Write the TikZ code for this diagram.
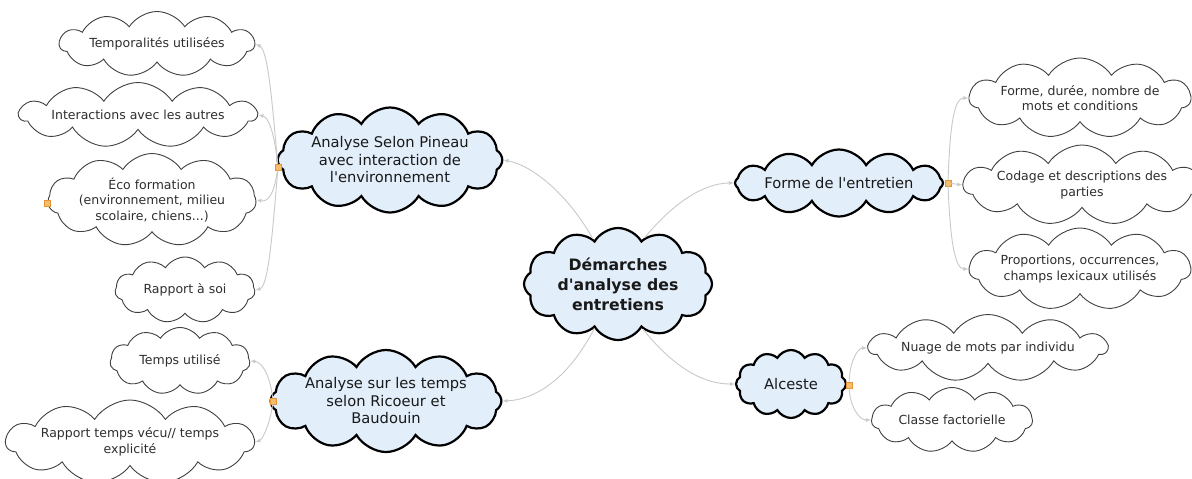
\documentclass[tikz,border=0pt]{standalone}
\usepackage{fontspec}
\setmainfont{DejaVu Sans}
\usetikzlibrary{shapes.symbols,arrows.meta}
\definecolor{mainfill}{HTML}{E3EEFB}
\definecolor{conngray}{HTML}{C9C9C9}
\definecolor{handlefill}{HTML}{F6BC6E}
\definecolor{handledraw}{HTML}{E59433}
\definecolor{leaftext}{HTML}{2E2E2E}
\newcommand{\apos}{\textquotesingle}
\tikzset{
  leafcloud/.style={cloud, cloud puffs=11, cloud puff arc=115, cloud ignores aspect,
    draw=black!75, line width=0.9pt, fill=white, inner sep=0pt, align=center,
    text=leaftext, font=\fontsize{12.5}{15.5}\selectfont},
  maincloud/.style={cloud, cloud puffs=12, cloud puff arc=120, cloud ignores aspect,
    draw=black, line width=2.2pt, fill=mainfill, inner sep=0pt, align=center,
    text=black!90, font=\fontsize{14.7}{17.5}\selectfont},
  conn/.style={draw=conngray, line width=0.9pt, -{Latex[length=5pt,width=4pt]}},
  handle/.style={draw=handledraw, fill=handlefill, line width=0.6pt, minimum size=6pt, inner sep=0pt, rectangle}
}
\begin{document}
\begin{tikzpicture}[x=1pt,y=-1pt]
\useasboundingbox[fill=white] (0,0) rectangle (1192,479);
% main nodes
\node[maincloud, minimum width=188pt, minimum height=112pt, font=\bfseries\fontsize{15.7}{20}\selectfont] (c) at (618,284) {Démarches\\d\apos{}analyse des\\entretiens};
\node[maincloud, minimum width=214pt, minimum height=105pt] (p) at (390,160) {Analyse Selon Pineau\\avec interaction de\\l\apos{}environnement};
\node[maincloud, minimum width=222pt, minimum height=102pt] (r) at (386,401) {Analyse sur les temps\\selon Ricoeur et\\Baudouin};
\node[maincloud, minimum width=208pt, minimum height=67pt] (f) at (839,183) {Forme de l\apos{}entretien};
\node[maincloud, minimum width=110pt, minimum height=68pt] (a) at (791,384) {Alceste};
% leaves left
\node[leafcloud, minimum width=195pt, minimum height=65pt] (p1) at (157,44) {Temporalités utilisées};
\node[leafcloud, minimum width=233pt, minimum height=65pt] (p2) at (138,115) {Interactions avec les autres};
\node[leafcloud, minimum width=205pt, minimum height=93pt] (p3) at (152,200) {Éco formation\\(environnement, milieu\\scolaire, chiens...)};
\node[leafcloud, minimum width=140pt, minimum height=66pt] (p4) at (185,290) {Rapport à soi};
\node[leafcloud, minimum width=140pt, minimum height=67pt] (r1) at (180,361) {Temps utilisé};
\node[leafcloud, minimum width=240pt, minimum height=84pt] (r2) at (130,442) {Rapport temps vécu// temps\\explicité};
% leaves right
\node[leafcloud, minimum width=216pt, minimum height=80pt] (f1) at (1080,98) {Forme, durée, nombre de\\mots et conditions};
\node[leafcloud, minimum width=220pt, minimum height=80pt] (f2) at (1082,185) {Codage et descriptions des\\parties};
\node[leafcloud, minimum width=216pt, minimum height=82pt] (f3) at (1080,269) {Proportions, occurrences,\\champs lexicaux utilisés};
\node[leafcloud, minimum width=232pt, minimum height=67pt] (a1) at (988,348) {Nuage de mots par individu};
\node[leafcloud, minimum width=161pt, minimum height=65pt] (a2) at (952,420) {Classe factorielle};
% handles
\node[handle] (ph) at (278,167) {};
\node[handle] (rh) at (273,401) {};
\node[handle] (fh) at (948,183) {};
\node[handle] (ah) at (849,385) {};
\node[handle] (eh) at (47,203) {};
% connectors from centre
\draw[conn] (c.119) .. controls (565,190) and (530,165) .. (p.east);
\draw[conn] (c.60) .. controls (680,195) and (710,183) .. (f.west);
\draw[conn] (c.-118) .. controls (565,385) and (530,400) .. (r.east);
\draw[conn] (c.-61) .. controls (680,375) and (710,384) .. (a.west);
% Pineau children
\draw[conn] (ph) .. controls (272,100) and (268,50) .. (p1.east);
\draw[conn] (ph) .. controls (274,130) and (268,117) .. (p2.east);
\draw[conn] (ph) .. controls (274,195) and (268,202) .. (p3.east);
\draw[conn] (ph) .. controls (272,240) and (268,287) .. (p4.east);
% Ricoeur children
\draw[conn] (rh) .. controls (270,375) and (262,362) .. (r1.east);
\draw[conn] (rh) .. controls (270,425) and (262,440) .. (r2.east);
% Forme children
\draw[conn] (fh) .. controls (950,120) and (955,98) .. (f1.west);
\draw[conn] (fh) -- (f2.west);
\draw[conn] (fh) .. controls (950,240) and (955,269) .. (f3.west);
% Alceste children
\draw[conn] (ah) .. controls (850,360) and (858,348) .. (a1.west);
\draw[conn] (ah) .. controls (850,405) and (858,420) .. (a2.west);
\end{tikzpicture}
\end{document}
